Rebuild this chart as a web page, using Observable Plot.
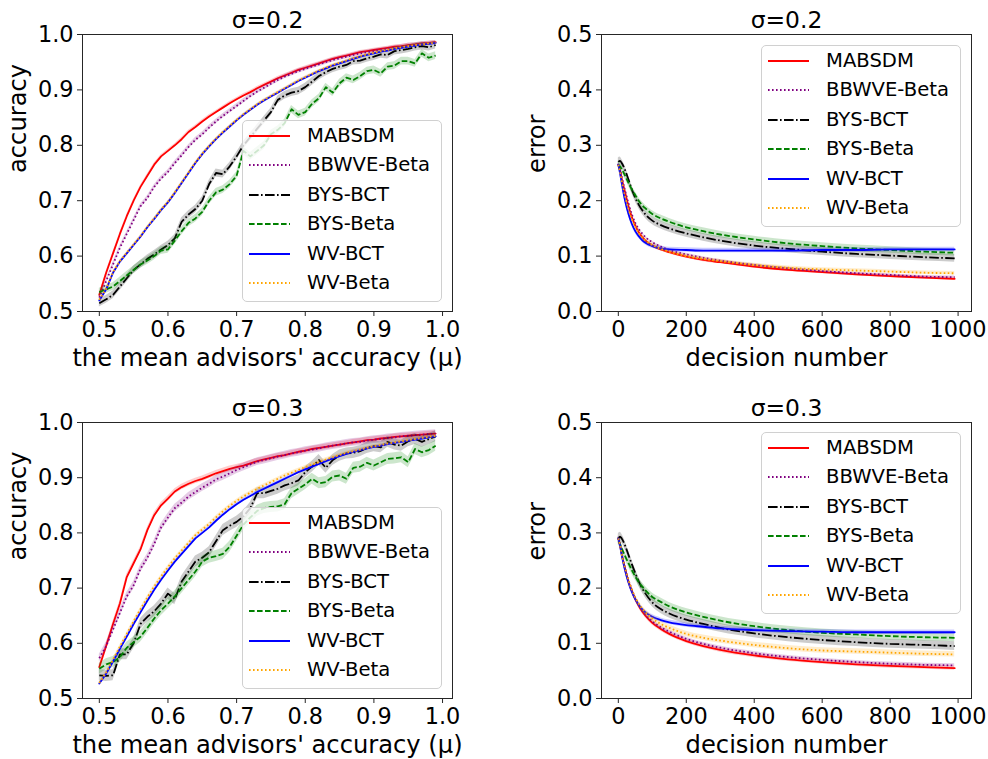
<!DOCTYPE html>
<html><head><meta charset="utf-8">
<script src="https://cdn.jsdelivr.net/npm/d3@7"></script>
<script src="https://cdn.jsdelivr.net/npm/@observablehq/plot@0.6"></script>
<style>
body{margin:0;background:#fff;}
#fig{position:relative;width:988px;height:759px;font-family:"DejaVu Sans",sans-serif;overflow:hidden;background:#fff;}
#fig > svg{position:absolute;}
.legend{position:absolute;box-sizing:border-box;border:1px solid #d0d0d0;border-radius:5px;background:rgba(255,255,255,0.8);}
.legend svg{position:absolute;overflow:visible;}
.legend span{position:absolute;font-size:19.6px;line-height:20px;white-space:nowrap;color:#000;font-family:"DejaVu Sans",sans-serif;}
</style></head><body><div id="fig"></div><script>
// ---------- data ----------
const seriesNames = ["MABSDM","BBWVE-Beta","BYS-BCT","BYS-Beta","WV-BCT","WV-Beta"];
const seriesColors = ["red","purple","black","green","blue","orange"];
const seriesDash = [undefined,"1.6,2.4","9.6,2.4,1.6,2.4","5.6,2.4",undefined,"1.6,2.4"];

const mu = [0.50,0.51,0.52,0.53,0.54,0.55,0.56,0.57,0.58,0.59,0.60,0.61,0.62,0.63,0.64,0.65,0.66,0.67,0.68,0.69,
            0.70,0.71,0.72,0.73,0.74,0.75,0.76,0.77,0.78,0.79,0.80,0.81,0.82,0.83,0.84,0.85,0.86,0.87,0.88,0.89,
            0.90,0.91,0.92,0.93,0.94,0.95,0.96,0.97,0.98,0.99];
const muTicks = [0.5,0.6,0.7,0.8,0.9,1.0];
const accTicks = [0.5,0.6,0.7,0.8,0.9,1.0];

// accuracy, sigma = 0.2
const acc02_MABSDM = [0.530,0.570,0.605,0.640,0.672,0.700,0.725,0.745,0.765,0.780,0.790,0.800,0.811,0.824,0.833,0.843,0.852,0.860,0.868,0.876,0.883,0.890,0.896,0.903,0.909,0.915,0.921,0.926,0.931,0.936,0.940,0.944,0.948,0.952,0.956,0.959,0.962,0.965,0.968,0.970,0.972,0.974,0.976,0.978,0.979,0.981,0.982,0.984,0.985,0.986];
const acc02_BBWVE = [0.525,0.555,0.585,0.615,0.640,0.665,0.690,0.705,0.725,0.740,0.752,0.768,0.782,0.797,0.810,0.820,0.832,0.843,0.853,0.862,0.871,0.880,0.889,0.897,0.904,0.911,0.918,0.924,0.929,0.934,0.938,0.942,0.946,0.950,0.954,0.957,0.960,0.963,0.966,0.968,0.970,0.972,0.974,0.976,0.978,0.980,0.981,0.983,0.984,0.985];
const acc02_BYSBCT = [0.515,0.522,0.530,0.545,0.560,0.575,0.585,0.595,0.603,0.612,0.620,0.632,0.662,0.675,0.685,0.700,0.730,0.750,0.748,0.762,0.780,0.800,0.815,0.830,0.845,0.860,0.882,0.890,0.895,0.898,0.905,0.915,0.925,0.932,0.938,0.942,0.945,0.952,0.953,0.957,0.960,0.964,0.963,0.970,0.972,0.974,0.977,0.979,0.977,0.981];
const acc02_BYSBeta = [0.535,0.540,0.545,0.555,0.565,0.575,0.585,0.592,0.600,0.610,0.612,0.628,0.645,0.660,0.668,0.680,0.700,0.715,0.720,0.730,0.745,0.790,0.780,0.790,0.800,0.820,0.828,0.840,0.865,0.855,0.860,0.875,0.885,0.905,0.895,0.912,0.922,0.918,0.925,0.934,0.936,0.930,0.942,0.944,0.952,0.952,0.948,0.966,0.958,0.962];
const acc02_WVBCT = [0.520,0.540,0.570,0.590,0.605,0.620,0.635,0.652,0.667,0.683,0.697,0.714,0.732,0.750,0.768,0.784,0.798,0.811,0.823,0.834,0.845,0.855,0.864,0.873,0.881,0.888,0.895,0.902,0.909,0.916,0.922,0.928,0.934,0.939,0.944,0.948,0.952,0.956,0.960,0.963,0.966,0.969,0.971,0.974,0.976,0.978,0.980,0.982,0.983,0.985];
const acc02_WVBeta = [0.521,0.541,0.571,0.591,0.606,0.621,0.636,0.653,0.668,0.684,0.698,0.715,0.733,0.751,0.769,0.785,0.799,0.812,0.824,0.835,0.846,0.856,0.865,0.874,0.882,0.889,0.896,0.903,0.910,0.917,0.923,0.929,0.935,0.940,0.945,0.949,0.953,0.957,0.961,0.964,0.967,0.970,0.972,0.975,0.977,0.979,0.981,0.982,0.984,0.985];
const acc02_band = [0.003,0.004,0.007,0.007,0.002,0.002];

// accuracy, sigma = 0.3
const acc03_MABSDM = [0.557,0.595,0.635,0.672,0.720,0.745,0.770,0.805,0.832,0.850,0.862,0.875,0.883,0.889,0.894,0.898,0.903,0.908,0.912,0.916,0.919,0.922,0.926,0.930,0.933,0.936,0.939,0.941,0.944,0.947,0.949,0.952,0.954,0.956,0.958,0.960,0.962,0.964,0.966,0.968,0.969,0.971,0.972,0.974,0.975,0.976,0.977,0.978,0.979,0.980];
const acc03_BBWVE = [0.573,0.595,0.625,0.655,0.685,0.705,0.735,0.755,0.780,0.810,0.828,0.845,0.855,0.866,0.874,0.882,0.889,0.897,0.902,0.908,0.914,0.919,0.924,0.929,0.932,0.935,0.938,0.941,0.944,0.946,0.949,0.951,0.953,0.956,0.958,0.960,0.962,0.964,0.965,0.967,0.969,0.970,0.972,0.973,0.975,0.976,0.977,0.978,0.979,0.980];
const acc03_BYSBCT = [0.542,0.541,0.542,0.580,0.580,0.600,0.635,0.648,0.658,0.672,0.690,0.680,0.712,0.730,0.748,0.755,0.765,0.785,0.805,0.813,0.820,0.830,0.845,0.872,0.872,0.876,0.880,0.886,0.890,0.895,0.910,0.920,0.932,0.918,0.932,0.940,0.944,0.945,0.948,0.954,0.957,0.955,0.965,0.960,0.958,0.966,0.970,0.965,0.970,0.975];
const acc03_BYSBeta = [0.554,0.562,0.566,0.575,0.592,0.602,0.612,0.628,0.645,0.660,0.672,0.685,0.700,0.715,0.730,0.748,0.755,0.758,0.762,0.775,0.795,0.815,0.828,0.840,0.845,0.847,0.848,0.852,0.872,0.880,0.888,0.898,0.890,0.892,0.902,0.904,0.898,0.918,0.920,0.927,0.922,0.928,0.934,0.935,0.937,0.928,0.952,0.946,0.950,0.958];
const acc03_WVBCT = [0.527,0.545,0.567,0.590,0.612,0.635,0.656,0.677,0.697,0.715,0.732,0.748,0.762,0.776,0.790,0.800,0.810,0.822,0.833,0.843,0.852,0.860,0.867,0.874,0.880,0.886,0.892,0.898,0.904,0.910,0.915,0.920,0.925,0.930,0.935,0.939,0.943,0.947,0.950,0.953,0.956,0.958,0.961,0.963,0.965,0.967,0.969,0.971,0.973,0.975];
const acc03_WVBeta = [0.528,0.547,0.570,0.594,0.617,0.640,0.662,0.683,0.703,0.721,0.738,0.754,0.768,0.782,0.796,0.806,0.816,0.828,0.839,0.849,0.858,0.866,0.873,0.880,0.886,0.892,0.898,0.904,0.909,0.914,0.919,0.924,0.928,0.933,0.937,0.941,0.945,0.948,0.951,0.954,0.957,0.959,0.962,0.964,0.966,0.968,0.970,0.972,0.974,0.976];
const acc03_band = [0.005,0.007,0.010,0.010,0.003,0.003];

// error vs decision number
const decisions = [0,5,10,20,30,40,50,60,70,80,100,125,150,200,250,300,400,500,600,700,800,900,990];
const decTicks = [0,200,400,600,800,1000];
const errTicks = [0.0,0.1,0.2,0.3,0.4,0.5];

const err02_MABSDM = [0.265,0.255,0.240,0.215,0.190,0.170,0.155,0.143,0.135,0.128,0.119,0.112,0.107,0.099,0.093,0.089,0.081,0.075,0.071,0.067,0.064,0.061,0.059];
const err02_BBWVE  = [0.265,0.257,0.243,0.218,0.195,0.175,0.160,0.149,0.141,0.134,0.125,0.117,0.111,0.103,0.097,0.092,0.084,0.078,0.073,0.069,0.066,0.063,0.062];
const err02_BYSBCT = [0.270,0.272,0.268,0.255,0.238,0.220,0.205,0.193,0.183,0.175,0.164,0.156,0.150,0.141,0.134,0.128,0.119,0.113,0.108,0.104,0.101,0.098,0.096];
const err02_BYSBeta= [0.265,0.262,0.257,0.245,0.232,0.220,0.210,0.200,0.192,0.186,0.176,0.168,0.162,0.152,0.145,0.139,0.130,0.123,0.118,0.114,0.111,0.108,0.106];
const err02_WVBCT  = [0.265,0.250,0.232,0.200,0.176,0.158,0.145,0.136,0.129,0.124,0.118,0.114,0.112,0.111,0.110,0.110,0.110,0.110,0.111,0.111,0.112,0.112,0.112];
const err02_WVBeta = [0.265,0.252,0.236,0.208,0.185,0.167,0.153,0.142,0.134,0.128,0.120,0.113,0.108,0.100,0.095,0.091,0.084,0.079,0.076,0.074,0.072,0.070,0.069];
const err02_band = [0.003,0.002,0.007,0.006,0.004,0.003];

const err03_MABSDM = [0.290,0.278,0.262,0.235,0.212,0.195,0.180,0.168,0.158,0.150,0.137,0.126,0.117,0.104,0.095,0.088,0.078,0.071,0.066,0.062,0.059,0.057,0.055];
const err03_BBWVE  = [0.290,0.279,0.264,0.238,0.215,0.197,0.182,0.170,0.160,0.152,0.140,0.129,0.121,0.108,0.099,0.092,0.082,0.075,0.070,0.066,0.063,0.061,0.060];
const err03_BYSBCT = [0.290,0.293,0.290,0.277,0.260,0.243,0.227,0.212,0.200,0.190,0.174,0.162,0.154,0.143,0.135,0.128,0.118,0.111,0.106,0.102,0.099,0.097,0.095];
const err03_BYSBeta= [0.285,0.280,0.272,0.258,0.245,0.232,0.221,0.211,0.203,0.196,0.184,0.175,0.167,0.156,0.148,0.141,0.131,0.124,0.119,0.116,0.113,0.111,0.110];
const err03_WVBCT  = [0.290,0.277,0.260,0.232,0.210,0.193,0.180,0.170,0.162,0.156,0.148,0.142,0.138,0.133,0.130,0.127,0.124,0.122,0.121,0.120,0.120,0.120,0.120];
const err03_WVBeta = [0.290,0.278,0.262,0.236,0.214,0.197,0.183,0.172,0.163,0.156,0.145,0.135,0.128,0.117,0.110,0.105,0.097,0.091,0.087,0.085,0.083,0.081,0.080];
const err03_band = [0.004,0.003,0.008,0.007,0.004,0.005];

const titles = ["σ=0.2","σ=0.2","σ=0.3","σ=0.3"];
const xLabels = ["the mean advisors' accuracy (μ)","decision number"];
const yLabels = ["accuracy","error"];

// ---------- drawing ----------
const fig = document.getElementById("fig");
const FONT = "DejaVu Sans";

function panel(cfg){
  const marks = [];
  seriesNames.forEach((name,k)=>{
    const vals = cfg.values[k], band = cfg.bands[k];
    const data = cfg.x.map((x,i)=>({x, y: vals[i], lo: vals[i]-band, hi: vals[i]+band}));
    marks.push(Plot.areaY(data,{x:"x",y1:"lo",y2:"hi",fill:seriesColors[k],fillOpacity:0.2,curve:cfg.curve}));
    marks.push(Plot.line(data,{x:"x",y:"y",stroke:seriesColors[k],strokeWidth:1.8,
      strokeDasharray:seriesDash[k],strokeLinecap:seriesDash[k]?"butt":"round",curve:cfg.curve}));
  });
  marks.push(Plot.frame({stroke:"#262626",strokeWidth:1}));
  marks.push(Plot.axisX(cfg.xTicks,{tickFormat:cfg.xFmt,tickSize:5,tickPadding:5,fontSize:22.4,label:null,stroke:"#262626"}));
  marks.push(Plot.axisY(cfg.yTicks,{tickFormat:d3.format(".1f"),tickSize:5,tickPadding:4,fontSize:22.4,label:null,stroke:"#262626"}));
  marks.push(Plot.text([cfg.title],{text:d=>d,frameAnchor:"top",dy:-7,lineAnchor:"bottom",fontSize:23.4}));
  marks.push(Plot.text([cfg.xLabel],{text:d=>d,frameAnchor:"bottom",dy:54,lineAnchor:"bottom",fontSize:24.2}));
  marks.push(Plot.text([cfg.yLabel],{text:d=>d,frameAnchor:"left",dx:-64,rotate:-90,lineAnchor:"middle",fontSize:24.2}));
  const svg = Plot.plot({
    width:494, height:cfg.h,
    marginLeft:cfg.ml, marginRight:cfg.mr, marginTop:cfg.mt, marginBottom:cfg.mb,
    x:{domain:cfg.xDomain}, y:{domain:cfg.yDomain},
    style:{fontFamily:FONT,fontSize:"22px",color:"black",background:"transparent",overflow:"visible"},
    marks
  });
  svg.style.left = cfg.left+"px"; svg.style.top = cfg.top+"px";
  fig.appendChild(svg);
}

function legend(left, top){
  const div = document.createElement("div");
  div.className = "legend";
  Object.assign(div.style,{left:left+"px",top:top+"px",width:"200px",height:"182px"});
  seriesNames.forEach((name,k)=>{
    const cy = 15 + k*29.4;
    const s = d3.create("svg").attr("width",41).attr("height",6)
      .style("left","6px").style("top",(cy-3)+"px");
    s.append("line").attr("x1",0).attr("x2",41).attr("y1",3).attr("y2",3)
      .attr("stroke",seriesColors[k]).attr("stroke-width",1.8)
      .attr("stroke-dasharray",seriesDash[k]||null).attr("stroke-linecap","butt");
    div.appendChild(s.node());
    const t = document.createElement("span");
    t.textContent = name;
    t.style.left = "64px"; t.style.top = (cy-10)+"px";
    div.appendChild(t);
  });
  fig.appendChild(div);
}

const accDomainX = [0.4755,1.0145];
const decDomainX = [-49.5,1039.5];

panel({left:0,top:0,h:380,ml:82,mr:42,mt:34,mb:69,x:mu,xDomain:accDomainX,yDomain:[0.5,1.0],
  xTicks:muTicks,yTicks:accTicks,xFmt:d3.format(".1f"),curve:"linear",
  values:[acc02_MABSDM,acc02_BBWVE,acc02_BYSBCT,acc02_BYSBeta,acc02_WVBCT,acc02_WVBeta],bands:acc02_band,
  title:titles[0],xLabel:xLabels[0],yLabel:yLabels[0]});
panel({left:494,top:0,h:380,ml:107,mr:17,mt:34,mb:69,x:decisions,xDomain:decDomainX,yDomain:[0,0.5],
  xTicks:decTicks,yTicks:errTicks,xFmt:d3.format("d"),curve:"monotone-x",
  values:[err02_MABSDM,err02_BBWVE,err02_BYSBCT,err02_BYSBeta,err02_WVBCT,err02_WVBeta],bands:err02_band,
  title:titles[1],xLabel:xLabels[1],yLabel:yLabels[1]});
panel({left:0,top:380,h:379,ml:82,mr:42,mt:42,mb:61,x:mu,xDomain:accDomainX,yDomain:[0.5,1.0],
  xTicks:muTicks,yTicks:accTicks,xFmt:d3.format(".1f"),curve:"linear",
  values:[acc03_MABSDM,acc03_BBWVE,acc03_BYSBCT,acc03_BYSBeta,acc03_WVBCT,acc03_WVBeta],bands:acc03_band,
  title:titles[2],xLabel:xLabels[0],yLabel:yLabels[0]});
panel({left:494,top:380,h:379,ml:107,mr:17,mt:42,mb:61,x:decisions,xDomain:decDomainX,yDomain:[0,0.5],
  xTicks:decTicks,yTicks:errTicks,xFmt:d3.format("d"),curve:"monotone-x",
  values:[err03_MABSDM,err03_BBWVE,err03_BYSBCT,err03_BYSBeta,err03_WVBCT,err03_WVBeta],bands:err03_band,
  title:titles[3],xLabel:xLabels[1],yLabel:yLabels[1]});

legend(242,120);
legend(761,45);
legend(242,507);
legend(761,432);
</script></body></html>
